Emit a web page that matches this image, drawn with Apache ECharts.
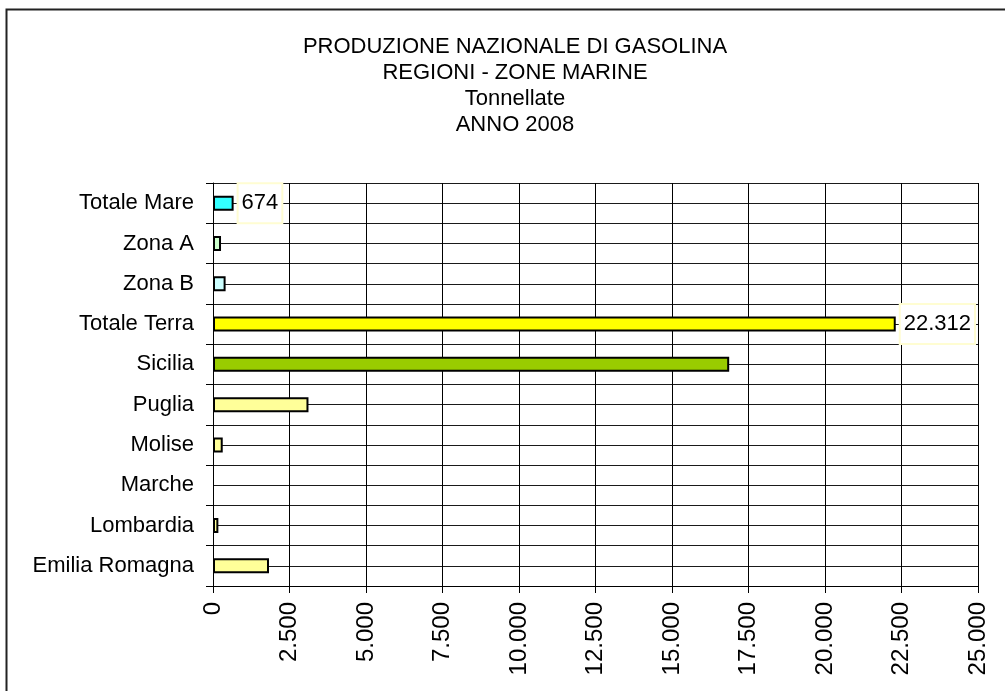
<!DOCTYPE html>
<html>
<head>
<meta charset="utf-8">
<script src="https://cdn.jsdelivr.net/npm/echarts@6/dist/echarts.min.js"></script>
<style>
  html, body { margin: 0; padding: 0; background: #fff; }
  #main { width: 1005px; height: 691px; }
</style>
</head>
<body>
<div id="main"></div>
<script>
// rows, top to bottom as in the chart
var categories = ['Totale Mare', 'Zona A', 'Zona B', 'Totale Terra', 'Sicilia', 'Puglia', 'Molise', 'Marche', 'Lombardia', 'Emilia Romagna']
var tonnes = [674, 262, 412, 22312, 16869, 3120, 318, 0, 175, 1830]
var labelledRows = ['Totale Mare', 'Totale Terra']
var titleLines = ['PRODUZIONE NAZIONALE DI GASOLINA', 'REGIONI - ZONE MARINE', 'Tonnellate', 'ANNO 2008']
var xMax = 25000
var xStep = 2500

var barColors = ['#33FFFF', '#CCFFCC', '#CCFFFF', '#FFFF00', '#99CC00', '#FFFF99', '#FFFF99', '#FFFF99', '#FFFF99', '#FFFF99']
var FONT = 'Liberation Sans'

function fmt (v) {
  return String(v).replace(/\B(?=(\d{3})+(?!\d))/g, '.')
}

var chart = echarts.init(document.getElementById('main'), null, { renderer: 'canvas' })

var barData = tonnes.map(function (v, i) {
  var item = {
    value: v,
    itemStyle: { color: barColors[i], borderColor: '#000', borderWidth: v === 0 ? 0 : 2 }
  }
  if (labelledRows.indexOf(categories[i]) !== -1) {
    item.label = {
      show: true,
      position: 'right',
      distance: 5,
      formatter: function (p) { return fmt(p.value) },
      fontFamily: FONT,
      fontSize: 22,
      lineHeight: 24,
      color: '#000',
      backgroundColor: '#fff',
      borderColor: '#FFFDD2',
      borderWidth: 2,
      padding: [7, 3, 7, 3]
    }
  }
  return item
})

var option = {
  backgroundColor: '#fff',
  animation: false,
  title: {
    text: titleLines.join('\n'),
    left: 510,
    top: 29,
    textAlign: 'center',
    textStyle: {
      fontFamily: FONT,
      fontSize: 22,
      fontWeight: 'normal',
      lineHeight: 26,
      color: '#000'
    }
  },
  graphic: [{
    type: 'rect',
    shape: { x: 6.5, y: 9.5, width: 1100, height: 800 },
    style: { fill: 'none', stroke: '#222', lineWidth: 2 },
    silent: true
  }],
  grid: { left: 213, right: 27, top: 183, bottom: 105, containLabel: false },
  xAxis: {
    type: 'value',
    min: 0,
    max: xMax,
    interval: xStep,
    axisLine: { show: true, lineStyle: { color: '#000', width: 1 } },
    axisTick: { show: true, length: 7, lineStyle: { color: '#000' } },
    axisLabel: {
      rotate: 90,
      margin: 16,
      fontFamily: FONT,
      fontSize: 24,
      color: '#000',
      formatter: fmt
    },
    splitLine: { show: true, lineStyle: { color: '#000', width: 1 } }
  },
  yAxis: [{
    type: 'category',
    data: categories,
    inverse: true,
    axisLine: { show: true, lineStyle: { color: '#000', width: 1 } },
    axisTick: { show: true, length: 7, lineStyle: { color: '#000' } },
    axisLabel: {
      margin: 19,
      fontFamily: FONT,
      fontSize: 22,
      color: '#000'
    },
    splitLine: { show: false }
  }, {
    // helper axis: draws the row boundary lines and the row centre lines
    type: 'value',
    min: 0,
    max: categories.length,
    interval: 0.5,
    position: 'right',
    axisLine: { show: false },
    axisTick: { show: false },
    axisLabel: { show: false },
    splitLine: { show: true, lineStyle: { color: '#1a1a1a', width: 1 } }
  }],
  series: [{
    type: 'bar',
    yAxisIndex: 0,
    barWidth: 15,
    data: barData,
    z: 3
  }]
}

chart.setOption(option)
</script>
</body>
</html>
